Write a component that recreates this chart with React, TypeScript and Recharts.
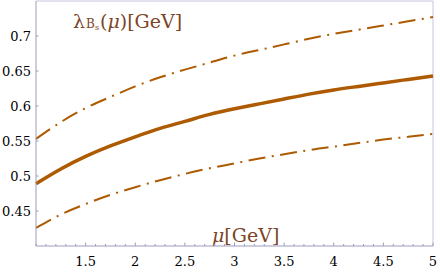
import { LineChart, Line, XAxis, YAxis, ReferenceLine, Customized } from "recharts";

const MU = [1, 1.25, 1.5, 1.75, 2, 2.25, 2.5, 2.75, 3, 3.25, 3.5, 3.75, 4, 4.25, 4.5, 4.75, 5];
const CENTRAL = [0.489, 0.51, 0.528, 0.543, 0.556, 0.568, 0.578, 0.588, 0.596, 0.603, 0.61, 0.617, 0.623, 0.628, 0.633, 0.638, 0.643];
const UPPER = [0.553, 0.577, 0.597, 0.613, 0.628, 0.641, 0.652, 0.662, 0.672, 0.68, 0.688, 0.696, 0.703, 0.709, 0.715, 0.721, 0.727];
const LOWER = [0.426, 0.445, 0.46, 0.473, 0.484, 0.494, 0.503, 0.511, 0.518, 0.525, 0.531, 0.537, 0.542, 0.547, 0.552, 0.556, 0.56];

const X_LABELS = [1.5, 2, 2.5, 3, 3.5, 4, 4.5, 5];
const Y_TICKS = [0.45, 0.5, 0.55, 0.6, 0.65, 0.7];

// minor ticks every 0.1 on the mu axis
const X_TICKS: number[] = [];
for (let i = 10; i <= 50; i++) X_TICKS.push(i / 10);

const LINE = "#ad5a00";
const LABEL = "#7d4526";
const AXIS = "#9c9cc0";
const FRAME = "#c4c4e0";
const FONT = "DejaVu Serif";

const data = MU.map((m, i) => ({ mu: m, c: CENTRAL[i], u: UPPER[i], l: LOWER[i] }));

function XTick(props: any) {
  const { x, y, payload } = props;
  const v = payload.value;
  const major = X_LABELS.some((t) => Math.abs(t - v) < 1e-6);
  return (
    <g>
      <line x1={x} x2={x} y1={y} y2={y - (major ? 3.5 : 2)} stroke={AXIS} />
      {major && (
        <text x={x} y={y + 20} textAnchor="middle" fontFamily={FONT} fontSize={13} fill="#000">
          {String(v)}
        </text>
      )}
    </g>
  );
}

function YTick(props: any) {
  const { x, y, payload } = props;
  return (
    <g>
      <line x1={x} x2={x + 2.5} y1={y} y2={y} stroke={AXIS} />
      <text x={x - 5} y={y + 5} textAnchor="end" fontFamily={FONT} fontSize={13} fill="#000">
        {String(payload.value)}
      </text>
    </g>
  );
}

function Labels() {
  return (
    <g fill={LABEL} fontFamily={FONT}>
      <text x={73} y={28} fontSize={19}>
        <tspan>λ</tspan>
        <tspan dx={1} fontSize={12}>B</tspan>
        <tspan dy={2} fontSize={8}>s</tspan>
        <tspan dy={-2} dx={1} fontSize={19}>(</tspan>
        <tspan fontStyle="italic">μ</tspan>
        <tspan>)[GeV]</tspan>
      </text>
      <text x={212} y={242} fontSize={19}>
        <tspan fontStyle="italic">μ</tspan>
        <tspan>[GeV]</tspan>
      </text>
    </g>
  );
}

export default function App() {
  return (
    <div style={{ width: 440, height: 272, background: "#fff" }}>
      <style>{`body{margin:0}`}</style>
      <LineChart width={440} height={272} data={data} margin={{ top: 1, right: 7, bottom: 0, left: 0 }}>
        <XAxis
          dataKey="mu"
          type="number"
          domain={[1, 5]}
          ticks={X_TICKS}
          interval={0}
          height={26}
          tickSize={0}
          tickMargin={0}
          tickLine={false}
          axisLine={{ stroke: AXIS }}
          tick={<XTick />}
        />
        <YAxis
          type="number"
          domain={[0.4, 0.75]}
          ticks={Y_TICKS}
          interval={0}
          width={36}
          tickSize={0}
          tickMargin={0}
          tickLine={false}
          axisLine={{ stroke: AXIS }}
          tick={<YTick />}
        />
        <ReferenceLine y={0.75} stroke={FRAME} />
        <ReferenceLine x={5} stroke={FRAME} />
        <Line dataKey="u" stroke={LINE} strokeWidth={2} strokeDasharray="17 6.5 2 6.5" dot={false} type="natural" isAnimationActive={false} />
        <Line dataKey="l" stroke={LINE} strokeWidth={2} strokeDasharray="17 6.5 2 6.5" dot={false} type="natural" isAnimationActive={false} />
        <Line dataKey="c" stroke={LINE} strokeWidth={3.5} dot={false} type="natural" isAnimationActive={false} />
        <Customized component={Labels} />
      </LineChart>
    </div>
  );
}
